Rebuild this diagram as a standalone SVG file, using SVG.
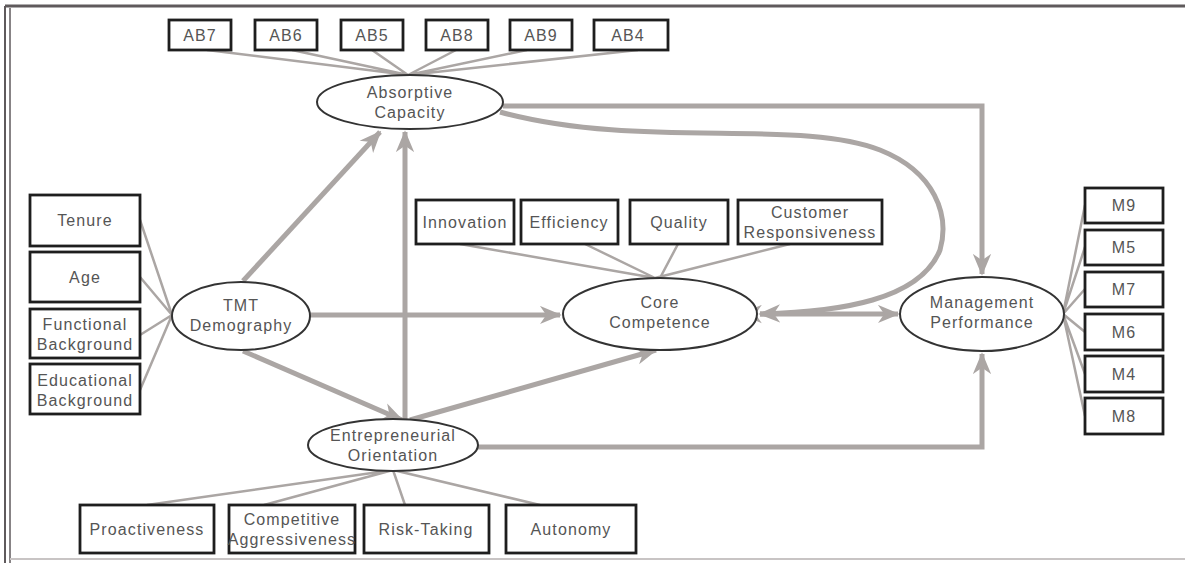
<svg xmlns="http://www.w3.org/2000/svg" width="1185" height="563" viewBox="0 0 1185 563">
<defs>
<style>
.box{fill:#fff;stroke:#1e1e1e;stroke-width:2.8}
.ell{fill:#fff;stroke:#333;stroke-width:2}
.t{font-family:"Liberation Sans",Arial,sans-serif;font-size:16px;letter-spacing:1.1px;fill:#555;text-anchor:middle}
.ind{stroke:#aba6a4;stroke-width:2.5;fill:none}
.path{stroke:#aba6a4;stroke-width:5;fill:none}
</style>
<marker id="ah" viewBox="0 0 12 10" refX="11" refY="5" markerWidth="4.4" markerHeight="3.8" orient="auto" markerUnits="strokeWidth">
<path d="M0,0 L12,5 L0,10 L3.5,5 z" fill="#aba6a4"/>
</marker>
<marker id="ahs" viewBox="0 0 12 10" refX="1" refY="5" markerWidth="4.4" markerHeight="3.8" orient="auto-start-reverse" markerUnits="strokeWidth">
<path d="M0,0 L12,5 L0,10 L3.5,5 z" fill="#aba6a4"/>
</marker>
</defs>
<rect width="1185" height="563" fill="#fff"/>
<g id="frame">
<line x1="5" y1="6" x2="1185" y2="6" stroke="#5f5a5c" stroke-width="3"/>
<line x1="5" y1="6" x2="5" y2="563" stroke="#5f5a5c" stroke-width="2"/>
<line x1="10" y1="8" x2="10" y2="563" stroke="#5f5a5c" stroke-width="1.5"/>
<line x1="10" y1="559" x2="1185" y2="559" stroke="#c8c4c4" stroke-width="2"/>
</g>
<g id="connectors">
<path class="ind" d="M207,50 L408,75 M292,50 L408,75 M372,50 L408,75 M456,50 L408,75 M527,50 L408,75 M638,50 L408,75"/>
<path class="ind" d="M140,220 L172,315 M140,277 L172,315 M140,335 L172,315 M140,390 L172,315"/>
<path class="ind" d="M460,244 L655,278 M585,244 L655,278 M678,244 L660,278 M790,244 L655,278"/>
<path class="ind" d="M1085,205 L1063,314 M1085,247 L1063,314 M1085,289 L1063,314 M1085,332 L1063,314 M1085,374 L1063,314 M1085,416 L1063,314"/>
<path class="ind" d="M147,505 L393,470 M264,505 L393,470 M405,505 L393,470 M540,505 L393,470"/>
<line class="path" x1="243" y1="281" x2="380" y2="132" marker-end="url(#ah)"/>
<line class="path" x1="405" y1="420" x2="405" y2="132" marker-end="url(#ah)"/>
<line class="path" x1="310" y1="315" x2="560" y2="315" marker-end="url(#ah)"/>
<line class="path" x1="243" y1="351" x2="402" y2="420" marker-end="url(#ah)"/>
<line class="path" x1="410" y1="420" x2="656" y2="350" marker-end="url(#ah)"/>
<path class="path" d="M503,106 L982,106 L982,274" marker-end="url(#ah)"/>
<path class="path" d="M500,112 C640,150 800,118 880,150 C935,172 950,215 940,250 C920,300 840,312 760,314" marker-end="url(#ah)"/>
<line class="path" x1="760" y1="314" x2="898" y2="314" marker-start="url(#ahs)" marker-end="url(#ah)"/>
<path class="path" d="M477,447 L982,447 L982,354" marker-end="url(#ah)"/>
</g>
<g id="AB7"><rect class="box" x="169" y="20" width="62" height="30"/><text class="t" x="200" y="41">AB7</text></g>
<g id="AB6"><rect class="box" x="255" y="20" width="62" height="30"/><text class="t" x="286" y="41">AB6</text></g>
<g id="AB5"><rect class="box" x="341" y="20" width="62" height="30"/><text class="t" x="372" y="41">AB5</text></g>
<g id="AB8"><rect class="box" x="426" y="20" width="62" height="30"/><text class="t" x="457" y="41">AB8</text></g>
<g id="AB9"><rect class="box" x="510" y="20" width="62" height="30"/><text class="t" x="541" y="41">AB9</text></g>
<g id="AB4"><rect class="box" x="594" y="20" width="74" height="30"/><text class="t" x="628" y="41">AB4</text></g>
<g id="absorptive"><ellipse class="ell" cx="410" cy="102" rx="93" ry="27"/><text class="t" x="410" y="98">Absorptive</text><text class="t" x="410" y="118">Capacity</text></g>
<g id="tenure"><rect class="box" x="30" y="195" width="110" height="51"/><text class="t" x="85" y="226">Tenure</text></g>
<g id="age"><rect class="box" x="30" y="252" width="110" height="50"/><text class="t" x="85" y="283">Age</text></g>
<g id="functional"><rect class="box" x="30" y="309" width="110" height="49"/><text class="t" x="85" y="330">Functional</text><text class="t" x="85" y="350">Background</text></g>
<g id="educational"><rect class="box" x="30" y="364" width="110" height="50"/><text class="t" x="85" y="386">Educational</text><text class="t" x="85" y="406">Background</text></g>
<g id="tmt"><ellipse class="ell" cx="241" cy="316" rx="69" ry="34"/><text class="t" x="241" y="311">TMT</text><text class="t" x="241" y="331">Demography</text></g>
<g id="innovation"><rect class="box" x="416" y="200" width="98" height="44"/><text class="t" x="465" y="228">Innovation</text></g>
<g id="efficiency"><rect class="box" x="521" y="200" width="97" height="44"/><text class="t" x="569" y="228">Efficiency</text></g>
<g id="quality"><rect class="box" x="630" y="200" width="98" height="44"/><text class="t" x="679" y="228">Quality</text></g>
<g id="customer"><rect class="box" x="738" y="200" width="144" height="44"/><text class="t" x="810" y="218">Customer</text><text class="t" x="810" y="238">Responsiveness</text></g>
<g id="core"><ellipse class="ell" cx="660" cy="314" rx="97" ry="36"/><text class="t" x="660" y="308">Core</text><text class="t" x="660" y="328">Competence</text></g>
<g id="mgmt"><ellipse class="ell" cx="982" cy="314" rx="82" ry="37"/><text class="t" x="982" y="308">Management</text><text class="t" x="982" y="328">Performance</text></g>
<g id="M9"><rect class="box" x="1085" y="188" width="78" height="35"/><text class="t" x="1124" y="211">M9</text></g>
<g id="M5"><rect class="box" x="1085" y="230" width="78" height="35"/><text class="t" x="1124" y="253">M5</text></g>
<g id="M7"><rect class="box" x="1085" y="272" width="78" height="35"/><text class="t" x="1124" y="295">M7</text></g>
<g id="M6"><rect class="box" x="1085" y="314" width="78" height="36"/><text class="t" x="1124" y="338">M6</text></g>
<g id="M4"><rect class="box" x="1085" y="356" width="78" height="36"/><text class="t" x="1124" y="380">M4</text></g>
<g id="M8"><rect class="box" x="1085" y="398" width="78" height="36"/><text class="t" x="1124" y="422">M8</text></g>
<g id="entrepreneurial"><ellipse class="ell" cx="393" cy="445" rx="85" ry="26"/><text class="t" x="393" y="441">Entrepreneurial</text><text class="t" x="393" y="461">Orientation</text></g>
<g id="proactiveness"><rect class="box" x="80" y="505" width="134" height="48"/><text class="t" x="147" y="535">Proactiveness</text></g>
<g id="competitive"><rect class="box" x="229" y="505" width="126" height="48"/><text class="t" x="292" y="525">Competitive</text><text class="t" x="292" y="545">Aggressiveness</text></g>
<g id="risk"><rect class="box" x="364" y="505" width="125" height="48"/><text class="t" x="426" y="535">Risk-Taking</text></g>
<g id="autonomy"><rect class="box" x="506" y="505" width="130" height="48"/><text class="t" x="571" y="535">Autonomy</text></g>
</svg>
